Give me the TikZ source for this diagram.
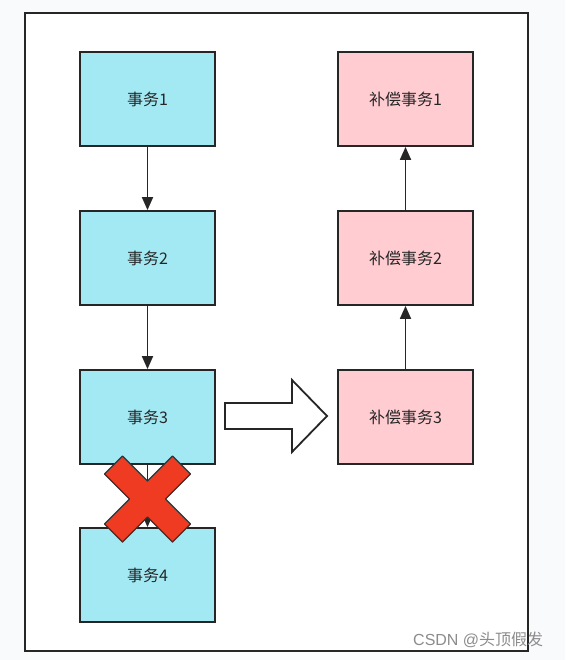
\documentclass[tikz,border=0pt]{standalone}
\usepackage{fontspec}
\setmainfont{Liberation Sans}
\newfontfamily\cjk{Noto Sans CJK SC}
\usetikzlibrary{arrows.meta,shapes.arrows}
\definecolor{txcyan}{HTML}{A3E9F4}
\definecolor{txpink}{HTML}{FFCCD2}
\definecolor{bgc}{HTML}{F9FAFC}
\definecolor{crossred}{HTML}{EE3B22}
\begin{document}
\begin{tikzpicture}[x=1pt,y=-1pt,
  box/.style={draw=black!85,line width=1.8pt,minimum width=135pt,minimum height=94pt,inner sep=0pt,font=\cjk\fontsize{16}{19}\selectfont,text=black!85},
  tx/.style={box,fill=txcyan},
  comp/.style={box,fill=txpink},
  link/.style={draw=black!85,line width=1.8pt,-{Triangle[length=13pt,width=11pt]}}]
\useasboundingbox (0,0) rectangle (565,660);
\fill[bgc] (0,0) rectangle (565,660);
\draw[line width=1.8pt,draw=black!85,fill=white] (25,13) rectangle (528,651);
\node[tx] (t1) at (147.5,99) {事务1};
\node[tx] (t2) at (147.5,258) {事务2};
\node[tx] (t3) at (147.5,417) {事务3};
\node[tx] (t4) at (147.5,575) {事务4};
\node[comp] (c1) at (405.5,99) {补偿事务1};
\node[comp] (c2) at (405.5,258) {补偿事务2};
\node[comp] (c3) at (405.5,417) {补偿事务3};
\draw[link] (t1) -- (t2);
\draw[link] (t2) -- (t3);
\draw[link] (t3) -- (t4);
\draw[link] (c3) -- (c2);
\draw[link] (c2) -- (c1);
\draw[line width=1.8pt,draw=black!85,fill=white,line join=miter]
  (225,403) -- (292,403) -- (292,380) -- (327,416) -- (292,452) -- (292,429) -- (225,429) -- cycle;
\begin{scope}[shift={(147.5,499)}]
  \draw[fill=crossred,draw=black!80,line width=1.4pt,line join=round]
    (-25,-43) -- (0,-18) -- (25,-43) -- (43,-25) -- (18,0) -- (43,25) -- (25,43) -- (0,18) -- (-25,43) -- (-43,25) -- (-18,0) -- (-43,-25) -- cycle;
\end{scope}
\node[text=black!45,font=\fontsize{16}{19}\selectfont,inner sep=0pt,anchor=base west] (wm) at (413,645) {CSDN @{\cjk 头顶假发}};
\end{tikzpicture}
\end{document}
